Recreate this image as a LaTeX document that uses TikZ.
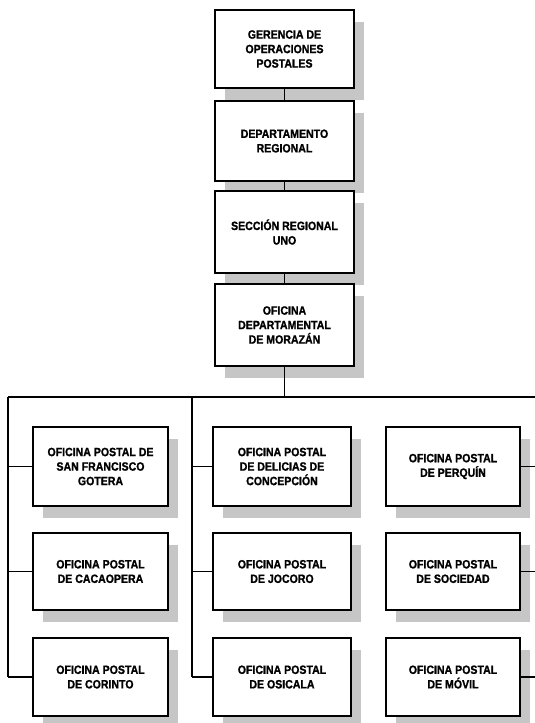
\documentclass[tikz,border=0pt]{standalone}
\usepackage{fontspec}
\setmainfont{Liberation Sans}
\newfontfamily\boxfont[FakeStretch=0.88,BoldFeatures={FakeStretch=0.88,FakeBold=1.2}]{Liberation Sans}
\usetikzlibrary{shadows}
\tikzset{
  orgbox/.style={draw=black, line width=2pt, fill=white, align=center,
    inner sep=2pt, font=\boxfont\fontsize{12}{14.5}\selectfont\bfseries,
    drop shadow={shadow xshift=10pt, shadow yshift=-12pt, fill=gray!45, opacity=1}},
  conn/.style={line width=1.6pt, black}
}
\begin{document}
\begin{tikzpicture}[x=1pt,y=-1pt]
\useasboundingbox (0,0) rectangle (535,723);
% top chain
\node[orgbox, minimum width=139pt, minimum height=78pt] (t1) at (284.5,49) {GERENCIA DE\\OPERACIONES\\POSTALES};
\node[orgbox, minimum width=139pt, minimum height=80pt] (t2) at (284.5,141) {DEPARTAMENTO\\REGIONAL};
\node[orgbox, minimum width=139pt, minimum height=82pt] (t3) at (284.5,232) {SECCIÓN REGIONAL\\UNO};
\node[orgbox, minimum width=139pt, minimum height=82pt] (t4) at (284.5,325) {OFICINA\\DEPARTAMENTAL\\DE MORAZÁN};
% left column
\node[orgbox, minimum width=135pt, minimum height=79pt] (a1) at (100.5,466.5) {OFICINA POSTAL DE\\SAN FRANCISCO\\GOTERA};
\node[orgbox, minimum width=135pt, minimum height=77pt] (a2) at (100.5,571.5) {OFICINA POSTAL\\DE CACAOPERA};
\node[orgbox, minimum width=135pt, minimum height=78pt] (a3) at (100.5,677) {OFICINA POSTAL\\DE CORINTO};
% middle column
\node[orgbox, minimum width=138pt, minimum height=79pt] (b1) at (282,466.5) {OFICINA POSTAL\\DE DELICIAS DE\\CONCEPCIÓN};
\node[orgbox, minimum width=138pt, minimum height=77pt] (b2) at (282,571.5) {OFICINA POSTAL\\DE JOCORO};
\node[orgbox, minimum width=138pt, minimum height=78pt] (b3) at (282,677) {OFICINA POSTAL\\DE OSICALA};
% right column
\node[orgbox, minimum width=134pt, minimum height=79pt] (c1) at (453,466.5) {OFICINA POSTAL\\DE PERQUÍN};
\node[orgbox, minimum width=134pt, minimum height=77pt] (c2) at (453,571.5) {OFICINA POSTAL\\DE SOCIEDAD};
\node[orgbox, minimum width=134pt, minimum height=78pt] (c3) at (453,677) {OFICINA POSTAL\\DE MÓVIL};
% bus coordinates
\coordinate (j) at (284.5,397);
\coordinate (lt) at (8,397);
\coordinate (mt) at (192,397);
\coordinate (rt) at (538,397);
\coordinate (lb) at (8,677);
\coordinate (mb) at (192,677);
\coordinate (rb) at (538,677);
% connectors
\draw[conn] (t1.south) -- (t2.north);
\draw[conn] (t2.south) -- (t3.north);
\draw[conn] (t3.south) -- (t4.north);
\draw[conn] (t4.south) -- (j);
\draw[conn] (lt) -- (rt);
\draw[conn] (lt) -- (lb);
\draw[conn] (mt) -- (mb);
\draw[conn] (rt) -- (rb);
\draw[conn] (a1.west) -- (a1.west -| lt);
\draw[conn] (a2.west) -- (a2.west -| lt);
\draw[conn] (a3.west) -- (lb);
\draw[conn] (b1.west) -- (b1.west -| mt);
\draw[conn] (b2.west) -- (b2.west -| mt);
\draw[conn] (b3.west) -- (mb);
\draw[conn] (c1.east) -- (c1.east -| rt);
\draw[conn] (c2.east) -- (c2.east -| rt);
\draw[conn] (c3.east) -- (rb);
\end{tikzpicture}
\end{document}
